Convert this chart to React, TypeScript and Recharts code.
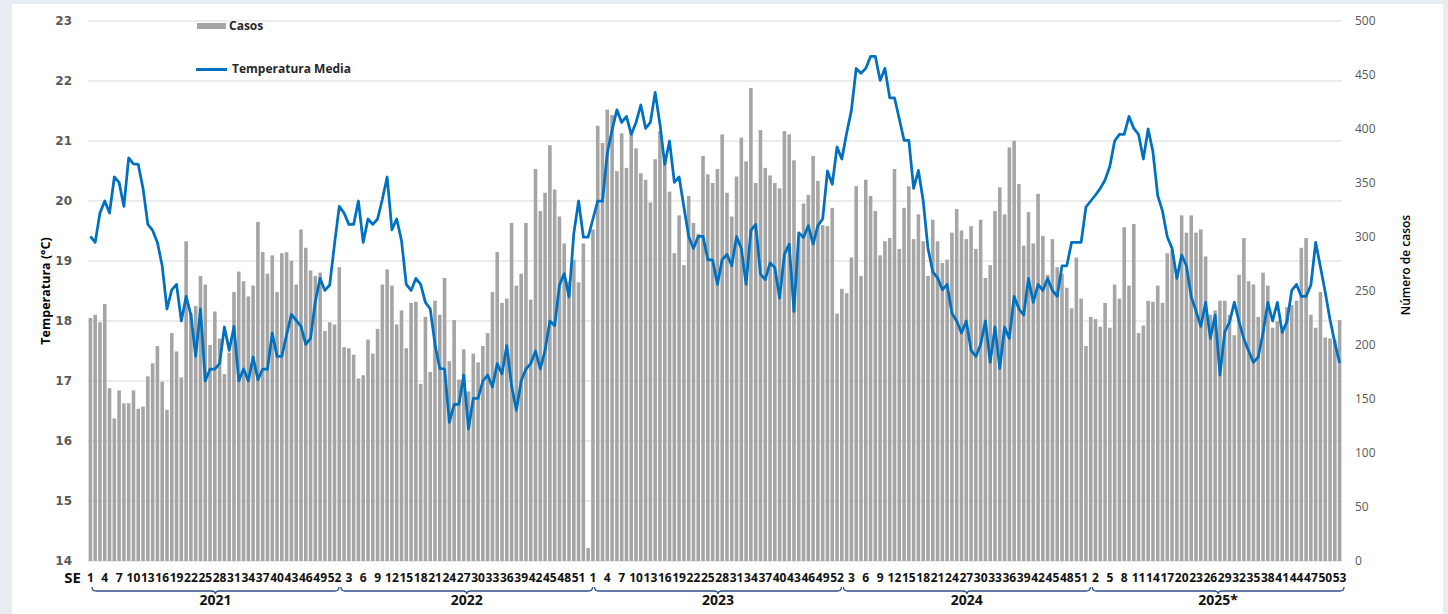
import React from 'react';
import { ComposedChart, Bar, Line, XAxis, YAxis, CartesianGrid, Legend } from 'recharts';

// ---------- DATA ----------
const years = ['2021', '2022', '2023', '2024', '2025*'];

const casos2021 = [225, 228, 221, 238, 160, 132, 158, 146, 146, 158, 141, 143, 171, 183, 199, 166, 140, 211, 194, 170, 296, 230, 236, 264, 256, 200, 231, 206, 173, 193, 249, 268, 259, 245, 255, 314, 286, 266, 283, 249, 285, 286, 278, 256, 307, 290, 269, 264, 267, 213, 221, 219];
const temp2021 = [19.41, 19.31, 19.8, 20.0, 19.8, 20.4, 20.31, 19.91, 20.72, 20.62, 20.61, 20.21, 19.61, 19.51, 19.31, 18.92, 18.2, 18.52, 18.61, 18.0, 18.41, 18.1, 17.41, 18.2, 17.0, 17.2, 17.2, 17.29, 17.9, 17.51, 17.91, 17.0, 17.2, 17.0, 17.4, 17.02, 17.2, 17.2, 17.8, 17.41, 17.41, 17.77, 18.11, 18.01, 17.91, 17.61, 17.71, 18.33, 18.71, 18.51, 18.6, 19.28];

const casos2022 = [272, 198, 197, 191, 169, 172, 205, 192, 215, 256, 270, 255, 219, 232, 197, 239, 240, 164, 226, 175, 241, 228, 262, 185, 223, 168, 196, 157, 192, 184, 199, 211, 249, 286, 239, 243, 313, 255, 266, 313, 242, 363, 324, 341, 385, 344, 319, 294, 259, 279, 258, 294, 12];
const temp2022 = [19.91, 19.8, 19.61, 19.61, 20.0, 19.31, 19.7, 19.61, 19.7, 20.03, 20.4, 19.52, 19.7, 19.34, 18.61, 18.51, 18.71, 18.61, 18.31, 18.2, 17.61, 17.21, 17.2, 16.31, 16.61, 16.61, 17.1, 16.2, 16.71, 16.71, 17.0, 17.1, 16.9, 17.29, 17.12, 17.59, 16.92, 16.51, 17.0, 17.2, 17.29, 17.5, 17.2, 17.51, 18.0, 17.92, 18.6, 18.79, 18.4, 19.46, 20.0, 19.4, 19.4];

const casos2023 = [307, 403, 387, 418, 413, 361, 396, 364, 397, 382, 359, 353, 332, 372, 398, 371, 342, 285, 320, 274, 338, 313, 303, 375, 358, 350, 363, 395, 341, 319, 356, 392, 370, 438, 350, 399, 364, 357, 350, 345, 398, 395, 371, 300, 331, 339, 375, 352, 311, 310, 327, 229];
const temp2023 = [19.7, 20.0, 20.0, 20.8, 21.18, 21.52, 21.31, 21.41, 21.11, 21.31, 21.6, 21.21, 21.31, 21.81, 21.28, 20.61, 21.0, 20.31, 20.4, 19.9, 19.41, 19.21, 19.41, 19.41, 19.02, 19.02, 18.61, 19.02, 19.11, 18.92, 19.41, 19.21, 18.61, 19.51, 19.61, 18.78, 18.69, 18.97, 18.89, 18.38, 19.11, 19.28, 18.16, 19.47, 19.39, 19.59, 19.28, 19.59, 19.7, 20.5, 20.28, 20.9];

const casos2024 = [252, 248, 281, 347, 264, 353, 338, 324, 283, 296, 299, 363, 289, 327, 347, 298, 321, 296, 264, 316, 296, 276, 279, 304, 326, 306, 298, 310, 289, 316, 262, 274, 324, 346, 321, 383, 389, 349, 292, 323, 294, 340, 301, 265, 298, 272, 266, 253, 234, 281, 243, 199];
const temp2024 = [20.7, 21.13, 21.51, 22.21, 22.13, 22.21, 22.41, 22.41, 22.01, 22.21, 21.72, 21.72, 21.37, 21.01, 21.01, 20.21, 20.51, 20.0, 19.21, 18.82, 18.72, 18.52, 18.61, 18.13, 18.0, 17.8, 18.0, 17.51, 17.41, 17.61, 18.0, 17.31, 17.9, 17.21, 17.9, 17.71, 18.41, 18.2, 18.1, 18.71, 18.31, 18.61, 18.51, 18.71, 18.51, 18.41, 18.92, 18.92, 19.31, 19.31, 19.31, 19.9];

const casos2025 = [226, 224, 217, 239, 216, 256, 243, 309, 255, 312, 211, 218, 241, 240, 255, 239, 285, 288, 270, 320, 304, 320, 304, 307, 282, 228, 232, 241, 241, 228, 209, 265, 299, 259, 256, 226, 267, 255, 216, 222, 213, 235, 237, 241, 290, 299, 228, 216, 249, 207, 206, 205, 223];
const temp2025 = [20.0, 20.1, 20.21, 20.35, 20.58, 21.0, 21.11, 21.11, 21.41, 21.21, 21.11, 20.7, 21.2, 20.82, 20.09, 19.83, 19.4, 19.21, 18.71, 19.1, 18.92, 18.4, 18.17, 17.91, 18.31, 17.71, 18.1, 17.1, 17.82, 17.98, 18.31, 17.99, 17.7, 17.5, 17.31, 17.4, 17.8, 18.31, 18.0, 18.31, 17.81, 17.99, 18.51, 18.61, 18.41, 18.41, 18.6, 19.31, 18.9, 18.48, 18.02, 17.64, 17.3];

const tempTicks = [14, 15, 16, 17, 18, 19, 20, 21, 22, 23];
const casosTicks = [0, 50, 100, 150, 200, 250, 300, 350, 400, 450, 500];

const casosByYear = [casos2021, casos2022, casos2023, casos2024, casos2025];
const tempByYear = [temp2021, temp2022, temp2023, temp2024, temp2025];

type Row = { key: string; yearIdx: number; week: number; casos: number; temp: number; idx: number };
const rows: Row[] = [];
casosByYear.forEach((arr, yi) => {
  arr.forEach((c, wi) => {
    rows.push({ key: `${years[yi]}-${wi + 1}`, yearIdx: yi, week: wi + 1, casos: c, temp: tempByYear[yi][wi], idx: rows.length });
  });
});
const rowByKey = new Map(rows.map((r) => [r.key, r]));

// ---------- LAYOUT ----------
const W = 1448;
const H = 614;
const MARGIN = { top: 21, right: 46, bottom: 13, left: 28 };
const Y_AXIS_W = 60;
const X_AXIS_H = 40;
const PLOT_W = W - MARGIN.left - MARGIN.right - 2 * Y_AXIS_W;
const BAND = PLOT_W / rows.length;

const FONT = "'Open Sans', 'DejaVu Sans', sans-serif";
const TEXT_DARK = '#111111';
const BRACKET = '#2f4e8c';

function WeekTick(props: any) {
  const { x, y, payload } = props;
  const r = rowByKey.get(payload?.value);
  if (!r) return <g />;
  const parts: React.ReactNode[] = [];
  if (r.idx % 3 === 0) {
    parts.push(
      <text key="w" x={x} y={y + 21} textAnchor="middle" fontFamily={FONT} fontSize={12} fontWeight="bold" fill={TEXT_DARK}>
        {r.week}
      </text>
    );
  }
  if (r.week === 1) {
    const n = casosByYear[r.yearIdx].length;
    const left = x - BAND / 2;
    const x0 = left + 4;
    const x1 = left + n * BAND + 2;
    const xc = (x0 + x1) / 2;
    const by = y + 30;
    const d = `M${x0},${by - 4} Q${x0},${by} ${x0 + 4},${by} L${xc - 4},${by} Q${xc},${by} ${xc},${by + 3} Q${xc},${by} ${xc + 4},${by} L${x1 - 4},${by} Q${x1},${by} ${x1},${by - 4}`;
    parts.push(<path key="b" d={d} fill="none" stroke={BRACKET} strokeWidth={1.3} />);
    parts.push(
      <text key="y" x={xc} y={y + 44} textAnchor="middle" fontFamily={FONT} fontSize={14} fontWeight="bold" fill={TEXT_DARK}>
        {years[r.yearIdx]}
      </text>
    );
  }
  return <g>{parts}</g>;
}

function BarShape(p: any) {
  const { x, y, height, fill } = p;
  if (!height || height <= 0) return <g />;
  const w = BAND * 0.75;
  const cx = x + BAND / 2;
  return <rect x={cx - w / 2} y={y} width={w} height={height} fill={fill} />;
}

function renderLegend(props: any) {
  const payload: any[] = props?.payload || [];
  return (
    <div style={{ position: 'relative', width: 220, fontFamily: FONT, fontSize: 12, fontWeight: 'bold', color: '#262626' }}>
      {payload.map((e, i) => {
        const isLine = e.type === 'line';
        return (
          <div key={i} style={{ display: 'flex', alignItems: 'center', height: 18, marginTop: i === 0 ? 0 : 25 }}>
            {isLine ? (
              <span style={{ display: 'inline-block', width: 31, height: 3, background: e.color, marginLeft: 0 }} />
            ) : (
              <span style={{ display: 'inline-block', width: 29, height: 6, background: e.color, marginLeft: 1 }} />
            )}
            <span style={{ marginLeft: isLine ? 5 : 3, lineHeight: '18px' }}>{e.value}</span>
          </div>
        );
      })}
    </div>
  );
}

const leftTitle = (p: any) => {
  const vb = p?.viewBox || { x: MARGIN.left, y: MARGIN.top, width: Y_AXIS_W, height: H - MARGIN.top - MARGIN.bottom - X_AXIS_H };
  const cx = vb.x + 17;
  const cy = vb.y + vb.height / 2;
  return (
    <text x={cx} y={cy} transform={`rotate(-90, ${cx}, ${cy})`} textAnchor="middle" dominantBaseline="central" fontFamily={FONT} fontSize={12.5} fontWeight="bold" fill="#000">
      Temperatura (°C)
    </text>
  );
};

const rightTitle = (p: any) => {
  const vb = p?.viewBox || { x: W - MARGIN.right - Y_AXIS_W, y: MARGIN.top, width: Y_AXIS_W, height: H - MARGIN.top - MARGIN.bottom - X_AXIS_H };
  const cx = vb.x + 63;
  const cy = vb.y + vb.height / 2 - 26;
  return (
    <text x={cx} y={cy} transform={`rotate(-90, ${cx}, ${cy})`} textAnchor="middle" dominantBaseline="central" fontFamily={FONT} fontSize={12} fontWeight={600} fill="#000">
      Número de casos
    </text>
  );
};

const seLabel = (p: any) => {
  const vb = p?.viewBox || { x: MARGIN.left + Y_AXIS_W, y: H - MARGIN.bottom - X_AXIS_H };
  return (
    <text x={vb.x - 7} y={vb.y + 22} textAnchor="end" fontFamily={FONT} fontSize={15} fontWeight="bold" fill={TEXT_DARK}>
      SE
    </text>
  );
};

export default function App() {
  return (
    <div style={{ position: 'absolute', left: 0, top: 0, width: W, height: H, background: '#e8ecf3', overflow: 'hidden' }}>
      <div style={{ position: 'absolute', left: 12, top: 4, width: 1431, height: H, background: '#ffffff' }} />
      <div style={{ position: 'absolute', left: 0, top: 0 }}>
        <ComposedChart width={W} height={H} data={rows} margin={MARGIN} barCategoryGap={0} barGap={0}>
          <CartesianGrid xAxisId="week" yAxisId="temp" vertical={false} stroke="#d9d9d9" strokeWidth={1} />
          <XAxis
            xAxisId="week"
            dataKey="key"
            interval={0}
            axisLine={false}
            tickLine={false}
            tickSize={0}
            tickMargin={0}
            height={X_AXIS_H}
            tick={WeekTick}
            label={seLabel}
          />
          <YAxis
            yAxisId="temp"
            orientation="left"
            domain={[14, 23]}
            ticks={tempTicks}
            interval={0}
            width={Y_AXIS_W}
            axisLine={false}
            tickLine={false}
            tickSize={0}
            tickMargin={16}
            tick={{ fill: '#595959', fontSize: 12, fontWeight: 'bold', fontFamily: "'DejaVu Sans', sans-serif" }}
            label={leftTitle}
          />
          <YAxis
            yAxisId="cases"
            orientation="right"
            domain={[0, 500]}
            ticks={casosTicks}
            interval={0}
            width={Y_AXIS_W}
            axisLine={false}
            tickLine={false}
            tickSize={0}
            tickMargin={13}
            tick={{ fill: '#595959', fontSize: 12, fontFamily: FONT }}
            label={rightTitle}
          />
          <Legend
            layout="horizontal"
            verticalAlign="middle"
            align="center"
            content={renderLegend}
            wrapperStyle={{ position: 'absolute', left: 196, top: 17, width: 220, height: 70 }}
          />
          <Bar
            xAxisId="week"
            yAxisId="cases"
            dataKey="casos"
            name="Casos"
            fill="#a5a5a5"
            shape={BarShape}
            legendType="rect"
            isAnimationActive={false}
          />
          <Line
            xAxisId="week"
            yAxisId="temp"
            dataKey="temp"
            name="Temperatura Media"
            type="linear"
            stroke="#0070c0"
            strokeWidth={2.75}
            strokeLinejoin="round"
            dot={false}
            activeDot={false}
            legendType="line"
            isAnimationActive={false}
          />
        </ComposedChart>
      </div>
    </div>
  );
}
